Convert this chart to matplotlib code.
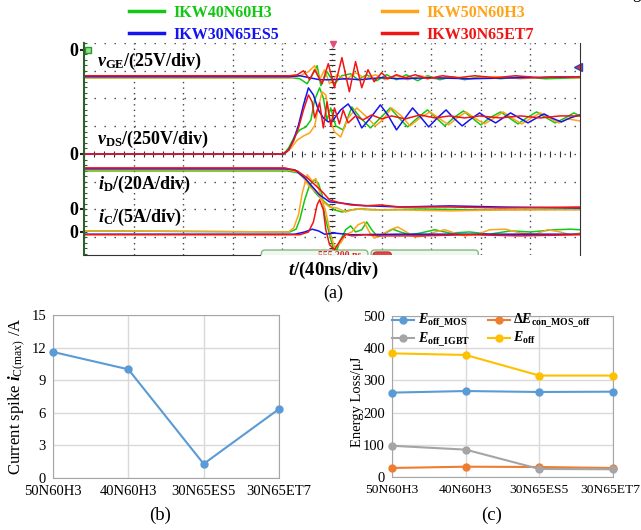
import numpy as np
import matplotlib.pyplot as plt
from matplotlib.lines import Line2D
from matplotlib.patches import FancyBboxPatch
from matplotlib.ticker import MultipleLocator
from matplotlib.transforms import ScaledTranslation

plt.rcParams['font.family'] = ['Liberation Serif', 'DejaVu Serif']
plt.rcParams['mathtext.fontset'] = 'custom'
plt.rcParams['mathtext.rm'] = 'Liberation Serif'
plt.rcParams['mathtext.it'] = 'Liberation Serif:italic'
plt.rcParams['mathtext.bf'] = 'Liberation Serif:bold'
plt.rcParams['mathtext.bfit'] = 'Liberation Serif:italic:bold'

# ---- (a) scope traces, time in ns, values in V / A ----
# v_GE
t_vge_40h3 = [0, 168, 174, 180, 185, 188, 191, 196, 202, 208, 215, 221, 228, 236, 244, 252, 260, 269, 277, 287, 297, 307, 319, 336, 352, 372, 400]
vge_40h3 = [-25.3, -25.3, -26.2, -30.7, -20.8, -14.4, -32.5, -19.9, -30.7, -23.5, -21.7, -27.1, -22.6, -28.0, -22.6, -27.1, -22.6, -28.0, -23.5, -27.1, -24.4, -27.1, -24.4, -26.2, -24.4, -26.2, -25.3]
t_vge_es5 = [0, 166, 174, 182, 190, 200, 211, 223, 239, 255, 279, 311, 352, 400]
vge_es5 = [-24.4, -24.4, -23.5, -25.3, -27.1, -27.1, -26.2, -27.1, -25.3, -26.2, -25.3, -26.2, -25.3, -24.4]
t_vge_50h3 = [0, 168, 174, 181, 186, 190, 194, 198, 204, 211, 219, 227, 235, 243, 252, 261, 271, 283, 295, 311, 332, 352, 376, 400]
vge_50h3 = [-25.3, -25.3, -23.5, -19.9, -14.4, -27.1, -18.1, -30.7, -22.6, -27.1, -20.8, -26.2, -22.6, -27.1, -23.5, -27.1, -23.5, -26.2, -24.4, -26.2, -24.4, -26.2, -24.4, -25.3]
t_vge_et7 = [0, 166, 172, 177, 182, 186, 192, 197, 202, 208, 214, 219, 224, 229, 234, 240, 245, 252, 259, 267, 277, 289, 302, 315, 332, 348, 368, 384, 400]
vge_et7 = [-23.5, -23.5, -22.6, -19.0, -27.1, -18.1, -30.7, -12.6, -34.3, -7.2, -37.9, -10.8, -34.3, -18.1, -28.9, -20.8, -26.2, -22.6, -25.3, -22.6, -26.2, -23.5, -25.3, -23.5, -25.3, -23.5, -25.3, -24.4, -24.4]

# v_DS
t_vds_40h3 = [0, 161, 165, 170, 174, 179, 183, 186, 190, 193, 196, 199, 203, 209, 216, 223, 231, 239, 247, 254, 261, 269, 277, 284, 291, 298, 306, 313, 320, 327, 336, 343, 350, 357, 365, 373, 380, 388, 395, 400]
vds_40h3 = [0, 0, 54, 162, 217, 244, 307, 487, 596, 505, 307, 415, 253, 217, 424, 325, 235, 325, 415, 325, 244, 325, 397, 325, 253, 325, 388, 325, 262, 325, 379, 325, 271, 325, 379, 325, 280, 325, 370, 343]
t_vds_es5 = [0, 161, 165, 169, 173, 177, 181, 185, 189, 193, 197, 201, 207, 213, 219, 224, 231, 239, 245, 252, 259, 265, 272, 278, 285, 292, 298, 305, 311, 319, 325, 332, 338, 344, 351, 358, 365, 371, 377, 385, 392, 400]
vds_es5 = [0, 0, 36, 126, 262, 442, 596, 532, 397, 325, 289, 307, 397, 451, 352, 235, 325, 442, 352, 217, 325, 415, 325, 244, 325, 397, 325, 253, 307, 370, 325, 280, 325, 370, 325, 280, 325, 361, 325, 289, 325, 352]
t_vds_50h3 = [0, 162, 167, 172, 177, 182, 186, 189, 192, 195, 198, 202, 207, 213, 220, 227, 235, 241, 248, 256, 263, 271, 279, 286, 294, 301, 308, 315, 323, 331, 338, 345, 353, 361, 368, 375, 383, 390, 400]
vds_50h3 = [0, 0, 54, 126, 162, 190, 253, 415, 560, 532, 325, 199, 153, 325, 415, 343, 253, 307, 415, 343, 253, 325, 379, 325, 262, 325, 379, 325, 271, 325, 379, 325, 271, 325, 370, 325, 280, 316, 298]
t_vds_et7 = [0, 160, 165, 169, 173, 177, 181, 184, 186, 190, 193, 196, 199, 202, 206, 209, 213, 219, 225, 232, 240, 248, 259, 271, 283, 295, 307, 319, 336, 352, 368, 384, 400]
vds_et7 = [0, 0, 36, 117, 235, 397, 532, 469, 325, 460, 235, 469, 253, 415, 271, 397, 280, 343, 307, 352, 316, 343, 316, 352, 325, 343, 325, 343, 325, 343, 325, 343, 343]

# i_D
t_id_40h3 = [0, 164, 173, 181, 186, 192, 197, 202, 208, 215, 223, 239, 271, 319, 400]
id_40h3 = [27.4, 27.4, 26.0, 18.8, 12.3, 6.5, 2.9, -0.7, -2.2, -0.7, 0, -0.7, 0, -0.7, 0]
t_id_es5 = [0, 162, 170, 178, 185, 190, 198, 207, 219, 231, 255, 295, 336, 400]
id_es5 = [28.9, 28.9, 28.2, 22.4, 15.2, 10.1, 5.1, 4.3, 2.9, 2.2, 1.4, 2.2, 1.4, 0.7]
t_id_50h3 = [0, 165, 172, 177, 182, 188, 193, 198, 204, 211, 219, 231, 255, 295, 336, 400]
id_50h3 = [28.2, 28.2, 26.7, 22.4, 15.9, 11.6, 5.1, 1.4, 0.7, -2.2, 0, -0.7, -0.7, -1.4, -0.7, -0.7]
t_id_et7 = [0, 162, 172, 180, 188, 193, 198, 207, 215, 227, 239, 255, 295, 336, 400]
id_et7 = [29.6, 29.6, 27.4, 22.4, 15.9, 11.6, 6.5, 4.3, 2.9, 2.2, 2.9, 1.4, 1.4, 0.7, 1.4]

# i_C
t_ic_40h3 = [0, 166, 171, 174, 178, 182, 186, 189, 192, 194, 198, 201, 204, 207, 211, 215, 219, 224, 228, 232, 237, 243, 249, 255, 263, 271, 283, 295, 311, 327, 344, 360, 380, 392, 400]
ic_40h3 = [0.2, 0, 0.5, 2.2, 5.8, 8.5, 9.4, 8.8, 6.7, 3.1, -0.5, -2.9, -3.2, -1.4, 0.4, 1.1, 0, 0.4, 1.8, 0.4, -0.9, -0.2, 0.5, 0, -0.5, -0.2, 0.4, -0.2, 0, -0.4, 0.2, 0, 0.4, 0.5, 0.4]
t_ic_es5 = [0, 170, 178, 184, 189, 194, 202, 215, 255, 319, 400]
ic_es5 = [-0.4, -0.4, 0, 0.5, 0.2, -0.4, -0.2, -0.5, -0.4, -0.4, -0.4]
t_ic_50h3 = [0, 165, 169, 173, 176, 180, 184, 187, 190, 195, 199, 202, 207, 211, 216, 221, 226, 230, 234, 240, 247, 253, 260, 267, 275, 283, 291, 299, 307, 318, 327, 340, 352, 364, 374, 384, 392, 400]
ic_50h3 = [0.2, 0, 0.7, 3.1, 7.0, 10.3, 9.2, 9.6, 7.2, 3.6, -0.5, -2.7, -2.0, -0.5, 0, 1.3, 1.8, 0, -1.1, -0.5, 0.4, 0.9, 0, -0.9, -0.7, 0, 0.4, -0.2, -0.7, -0.4, 0.4, 0.5, -0.2, -0.4, 0.4, 0, -0.5, -0.2]
t_ic_et7 = [0, 174, 181, 185, 188, 190, 193, 195, 198, 202, 207, 211, 216, 227, 239, 271, 311, 352, 400]
ic_et7 = [-0.5, -0.5, 0, 1.8, 4.9, 5.8, 4.0, 0.4, -2.3, -3.2, -1.4, -0.4, -0.7, -0.5, -0.7, -0.7, -0.5, -0.7, -0.5]

# ---- (b) / (c) ----
models = ['50N60H3', '40N60H3', '30N65ES5', '30N65ET7']
spike = [11.6, 10.0, 1.3, 6.35]
e_off_mos = [262, 267, 264, 265]
de_con = [28, 32, 31, 28]
e_off_igbt = [97, 85, 25, 24]
e_off = [384, 379, 315, 315]

GREEN, BLUE, ORANGE, RED = '#12c812', '#1414f0', '#ffa31a', '#f01414'

W, H = 641, 530
def box(l, t, r, b):
    return [l / W, 1 - b / H, (r - l) / W, (b - t) / H]

fig = plt.figure(figsize=(6.41, 5.30), dpi=100)

# ======== (a) ========
ax = fig.add_axes(box(84, 43, 580, 255))
ax.set_xlim(0, 400)
ax.set_ylim(0.36, 8.0)

# channel zero level (div) and scale (unit/div)
z_vge, s_vge = 7.76, 25.0
z_vds, s_vds = 4.0, 250.0
z_id, s_id = 2.02, 20.0
z_ic, s_ic = 1.19, 5.0

for k in range(1, 10):
    ax.axvline(40 * k, color='#444444', lw=1.0, ls=(0, (1, 3)), zorder=0)
for k in range(1, 9):
    ax.axhline(k, color='#444444', lw=1.0, ls=(0, (1, 6.2)), zorder=0)
# centre lines carry extra ticks
hx = np.arange(0, 401, 8)
ax.plot(hx, np.full(len(hx), 4.0), ls='none', marker='|', ms=4, mew=0.8, color='#333333', zorder=0)
vy = np.arange(0.4, 8.0, 0.2)
ax.plot(np.full(len(vy), 200.0), vy, ls='none', marker='_', ms=4, mew=0.8, color='#333333', zorder=0)

traces = [
    (GREEN, t_vge_40h3, vge_40h3, t_vds_40h3, vds_40h3, t_id_40h3, id_40h3, t_ic_40h3, ic_40h3),
    (ORANGE, t_vge_50h3, vge_50h3, t_vds_50h3, vds_50h3, t_id_50h3, id_50h3, t_ic_50h3, ic_50h3),
    (BLUE, t_vge_es5, vge_es5, t_vds_es5, vds_es5, t_id_es5, id_es5, t_ic_es5, ic_es5),
    (RED, t_vge_et7, vge_et7, t_vds_et7, vds_et7, t_id_et7, id_et7, t_ic_et7, ic_et7),
]
for c, tg, vg, td, vd, ti, vi, tc, vc in traces:
    ax.plot(tg, z_vge + np.array(vg) / s_vge, color=c, lw=1.1)
    ax.plot(td, z_vds + np.array(vd) / s_vds, color=c, lw=1.1)
    ax.plot(ti, z_id + np.array(vi) / s_id, color=c, lw=1.1)
    ax.plot(tc, z_ic + np.array(vc) / s_ic, color=c, lw=1.1)

ax.set_xticks([])
ax.set_yticks([z_vge, z_vds, z_id, z_ic])
ax.set_yticklabels(['0'] * 4, fontsize=13, fontweight='bold')
ax.yaxis.set_minor_locator(MultipleLocator(0.2))
ax.tick_params(axis='y', which='major', length=3, width=1.5, pad=1, color='#222222')
ax.tick_params(axis='y', which='minor', direction='in', length=2.5, width=0.8, color='#2f5f2f')
ax.spines['top'].set_visible(False)
ax.spines['left'].set_color('#2f5f2f')
ax.spines['left'].set_linewidth(1.5)
ax.spines['right'].set_color('#333333')
ax.spines['bottom'].set_color('#333333')
ax.spines['bottom'].set_bounds(0, 142)

# status boxes at the bottom of the screen
for x0, x1 in [(143, 229), (231.5, 318)]:
    ax.add_patch(FancyBboxPatch((x0, -0.6), x1 - x0, 1.14, boxstyle='round,pad=0,rounding_size=3',
                                mutation_aspect=0.045, fc='#eef8ee', ec='#86b886', lw=1.0))
ax.add_patch(FancyBboxPatch((233, 0.0), 15, 0.47, boxstyle='round,pad=0,rounding_size=3',
                            mutation_aspect=0.045, fc='#e04848', ec='#c03030', lw=0.8))
ax.text(189, 0.52, '555.200 ns', color='#e02020', fontsize=7, fontweight='bold', va='top', clip_on=True)

ax.plot([3.2], [z_vge], marker='s', ms=5, mfc='#8fe08f', mec='#2a9a2a', clip_on=False)
ax.plot([200.8], [7.98], marker='v', ms=5, color='#e0507a', clip_on=False)
ax.plot([398], [7.15], marker='<', ms=6, mfc='#e03030', mec='#3040c0', clip_on=False)

ax.text(10.5, 7.33, r'$\mathbfit{v}_{\mathbf{GE}}$/(25V/div)', fontsize=13, fontweight='bold', va='center')
ax.text(10.5, 4.51, r'$\mathbfit{v}_{\mathbf{DS}}$/(250V/div)', fontsize=13, fontweight='bold', va='center')
ax.text(11.3, 2.92, r'$\mathbfit{i}_{\mathbf{D}}$/(20A/div)', fontsize=13, fontweight='bold', va='center')
ax.text(11.3, 1.70, r'$\mathbfit{i}_{\mathbf{C}}$/(5A/div)', fontsize=13, fontweight='bold', va='center')

handles = [Line2D([], [], color=c, lw=2.5) for c in [GREEN, BLUE, ORANGE, RED]]
fig.legend(handles, ['IKW40N60H3', 'IKW30N65ES5', 'IKW50N60H3', 'IKW30N65ET7'],
           ncol=2, loc='upper left', bbox_to_anchor=(129 / W, 1 - 5 / H), frameon=False,
           prop=dict(weight='bold', size=11.5), labelcolor='linecolor', handlelength=2.2,
           handletextpad=0.6, columnspacing=6.4, labelspacing=0.35, borderpad=0, borderaxespad=0)

fig.text(333 / W, 1 - 270 / H, r'$\mathbfit{t}$/(40ns/div)', fontsize=13.5, fontweight='bold', ha='center', va='center')
fig.text(333 / W, 1 - 293 / H, '(a)', fontsize=13, ha='center', va='center')
fig.text(632 / W, 1 + 2 / H, 'g', fontsize=12, ha='left', va='baseline')

# ======== (b) ========
x = np.arange(len(models))
axb = fig.add_axes(box(53, 315, 279, 478))
axb.plot(x, spike, color='#5b9bd5', lw=1.5, marker='o', ms=5, clip_on=False, zorder=3)
axb.set_xlim(0, 3)
axb.set_ylim(0, 15)
axb.set_yticks(np.arange(0, 16, 3))
axb.set_xticks(x)
axb.set_xticklabels(models)
axb.grid(color='#d9d9d9', lw=1.0)
axb.set_axisbelow(True)
for s in axb.spines.values():
    s.set_color('#a6a6a6')
axb.tick_params(axis='y', length=0, labelsize=10.5, pad=5)
axb.tick_params(axis='x', length=0, labelsize=10.5, pad=5)
axb.set_ylabel(r'Current spike $\mathbfit{i}_{\mathrm{C(max)}}$ /A', fontsize=12)
axb.yaxis.set_label_coords(-0.11, 0.5)
fig.text(160 / W, 1 - 515 / H, '(b)', fontsize=13.5, ha='center', va='center')

# ======== (c) ========
axc = fig.add_axes(box(392, 316, 613, 477))
l1, = axc.plot(x, e_off_mos, color='#5b9bd5', lw=1.5, marker='o', ms=5, clip_on=False, zorder=3)
l2, = axc.plot(x, de_con, color='#ed7d31', lw=1.5, marker='o', ms=5, clip_on=False, zorder=3)
l3, = axc.plot(x, e_off_igbt, color='#a5a5a5', lw=1.5, marker='o', ms=5, clip_on=False, zorder=3)
l4, = axc.plot(x, e_off, color='#ffc000', lw=1.5, marker='o', ms=5, clip_on=False, zorder=3)
axc.set_xlim(0, 3)
axc.set_ylim(0, 500)
axc.set_yticks(np.arange(0, 501, 100))
axc.set_xticks(x)
axc.set_xticklabels(models)
axc.grid(color='#d9d9d9', lw=1.0)
axc.set_axisbelow(True)
for s in axc.spines.values():
    s.set_color('#a6a6a6')
axc.tick_params(axis='y', length=0, labelsize=10.5, pad=5)
axc.tick_params(axis='x', length=0, labelsize=9.7, pad=5)
# last category label is pushed left a little so it stays inside the figure
last = axc.get_xticklabels()[-1]
last.set_transform(last.get_transform() + ScaledTranslation(-0.03, 0, fig.dpi_scale_trans))
axc.set_ylabel('Energy Loss/μJ', fontsize=10.5)
axc.yaxis.set_label_coords(-0.125, 0.47)
axc.legend([l1, l3, l2, l4],
           [r'$\mathbfit{E}_{\mathbf{off\_MOS}}$', r'$\mathbfit{E}_{\mathbf{off\_IGBT}}$',
            r'$\mathbf{\Delta}\mathbfit{E}_{\mathbf{con\_MOS\_off}}$', r'$\mathbfit{E}_{\mathbf{off}}$'],
           ncol=2, loc='upper left', bbox_to_anchor=(0.0, 1.025), frameon=False, fontsize=10,
           handlelength=1.6, handletextpad=0.25, columnspacing=1.3, labelspacing=0.0,
           borderpad=0.0, borderaxespad=0.0)
fig.text(492 / W, 1 - 515 / H, '(c)', fontsize=13.5, ha='center', va='center')

fig.savefig('out.png', dpi=100)
